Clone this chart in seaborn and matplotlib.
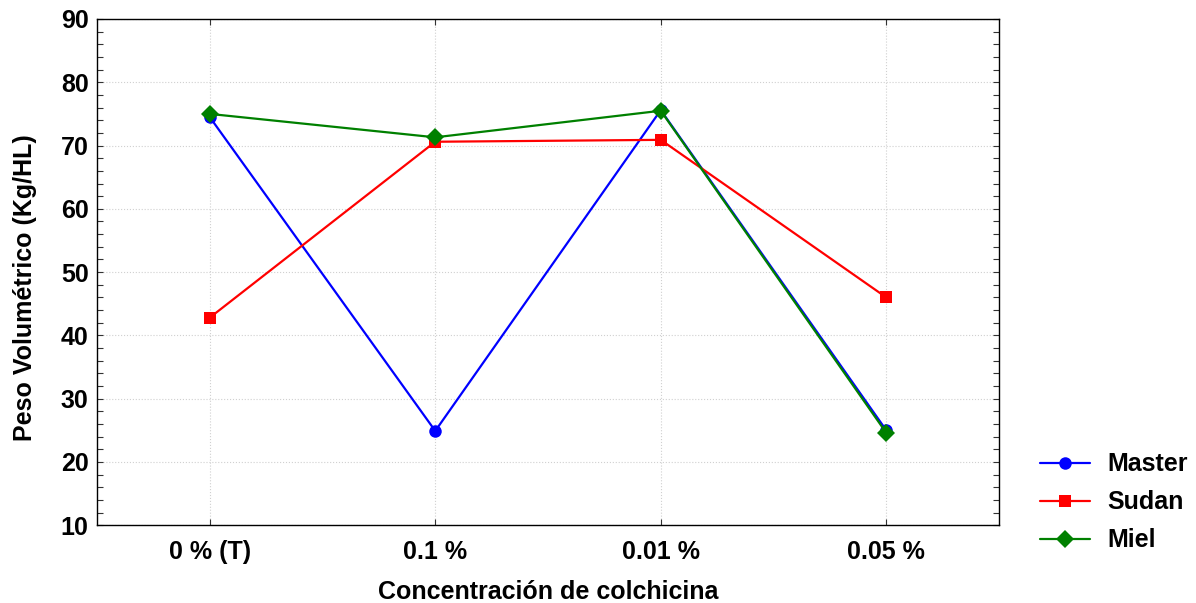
import pandas as pd
import numpy as np
import seaborn as sns
import matplotlib.pyplot as plt
from matplotlib.ticker import MultipleLocator

# Data
concentracion = ["0 % (T)", "0.1 %", "0.01 %", "0.05 %"]
master = [74.5, 24.9, 75.6, 25.0]
sudan = [42.8, 70.6, 70.9, 46.0]
miel = [75.0, 71.3, 75.5, 24.6]
variedades = ["Master", "Sudan", "Miel"]

df = pd.DataFrame({
    "Concentracion": concentracion * 3,
    "Peso": master + sudan + miel,
    "Variedad": np.repeat(variedades, len(concentracion)),
})

sns.set_style("white")
plt.rcParams["font.family"] = ["Liberation Sans", "DejaVu Sans"]
plt.rcParams["font.weight"] = "bold"
plt.rcParams["text.color"] = "black"
plt.rcParams["axes.labelcolor"] = "black"
plt.rcParams["xtick.color"] = "black"
plt.rcParams["ytick.color"] = "black"

fig = plt.figure(figsize=(11.96, 6.03), dpi=100)
ax = fig.add_axes([0.0811, 0.129, 0.7542, 0.8395])

colors = {"Master": "#0000ff", "Sudan": "#ff0000", "Miel": "#008000"}
markers = {"Master": "o", "Sudan": "s", "Miel": "D"}

sns.lineplot(data=df, x="Concentracion", y="Peso", hue="Variedad",
             style="Variedad", palette=colors, markers=markers, dashes=False,
             sort=False, linewidth=1.6, markersize=9, markeredgewidth=0,
             ax=ax)

ax.set_xlim(-0.5, 3.5)
ax.set_ylim(10, 90)
ax.yaxis.set_major_locator(MultipleLocator(10))
ax.yaxis.set_minor_locator(MultipleLocator(2))
ax.tick_params(axis="y", which="both", direction="in", left=True, right=True,
               length=4, width=0.8, color="#333333")
ax.tick_params(axis="x", direction="in", bottom=True, top=True, length=4,
               width=0.8, color="#333333")
ax.tick_params(axis="y", labelsize=18, pad=6)
ax.tick_params(axis="x", labelsize=18, pad=11)
for lbl in ax.get_xticklabels() + ax.get_yticklabels():
    lbl.set_fontweight("bold")

ax.grid(True, which="major", linestyle=":", color="#d0d0d0", linewidth=0.8)
for s in ax.spines.values():
    s.set_color("black")
    s.set_linewidth(1.0)

ax.set_xlabel("Concentración de colchicina", fontsize=18, fontweight="bold")
ax.xaxis.label.set_va("baseline")
ax.xaxis.set_label_coords(0.5, -0.146)
ax.set_ylabel("Peso Volumétrico (Kg/HL)", fontsize=18, fontweight="bold")
ax.yaxis.set_label_coords(-0.067, 0.47)

handles, labels = ax.get_legend_handles_labels()
ax.legend(handles, labels, loc="center left", bbox_to_anchor=(1.02, 0.045),
          frameon=False, prop={"size": 18, "weight": "bold"},
          handlelength=2.0, handletextpad=0.72, labelspacing=0.56)

plt.savefig("out.png", dpi=100)
